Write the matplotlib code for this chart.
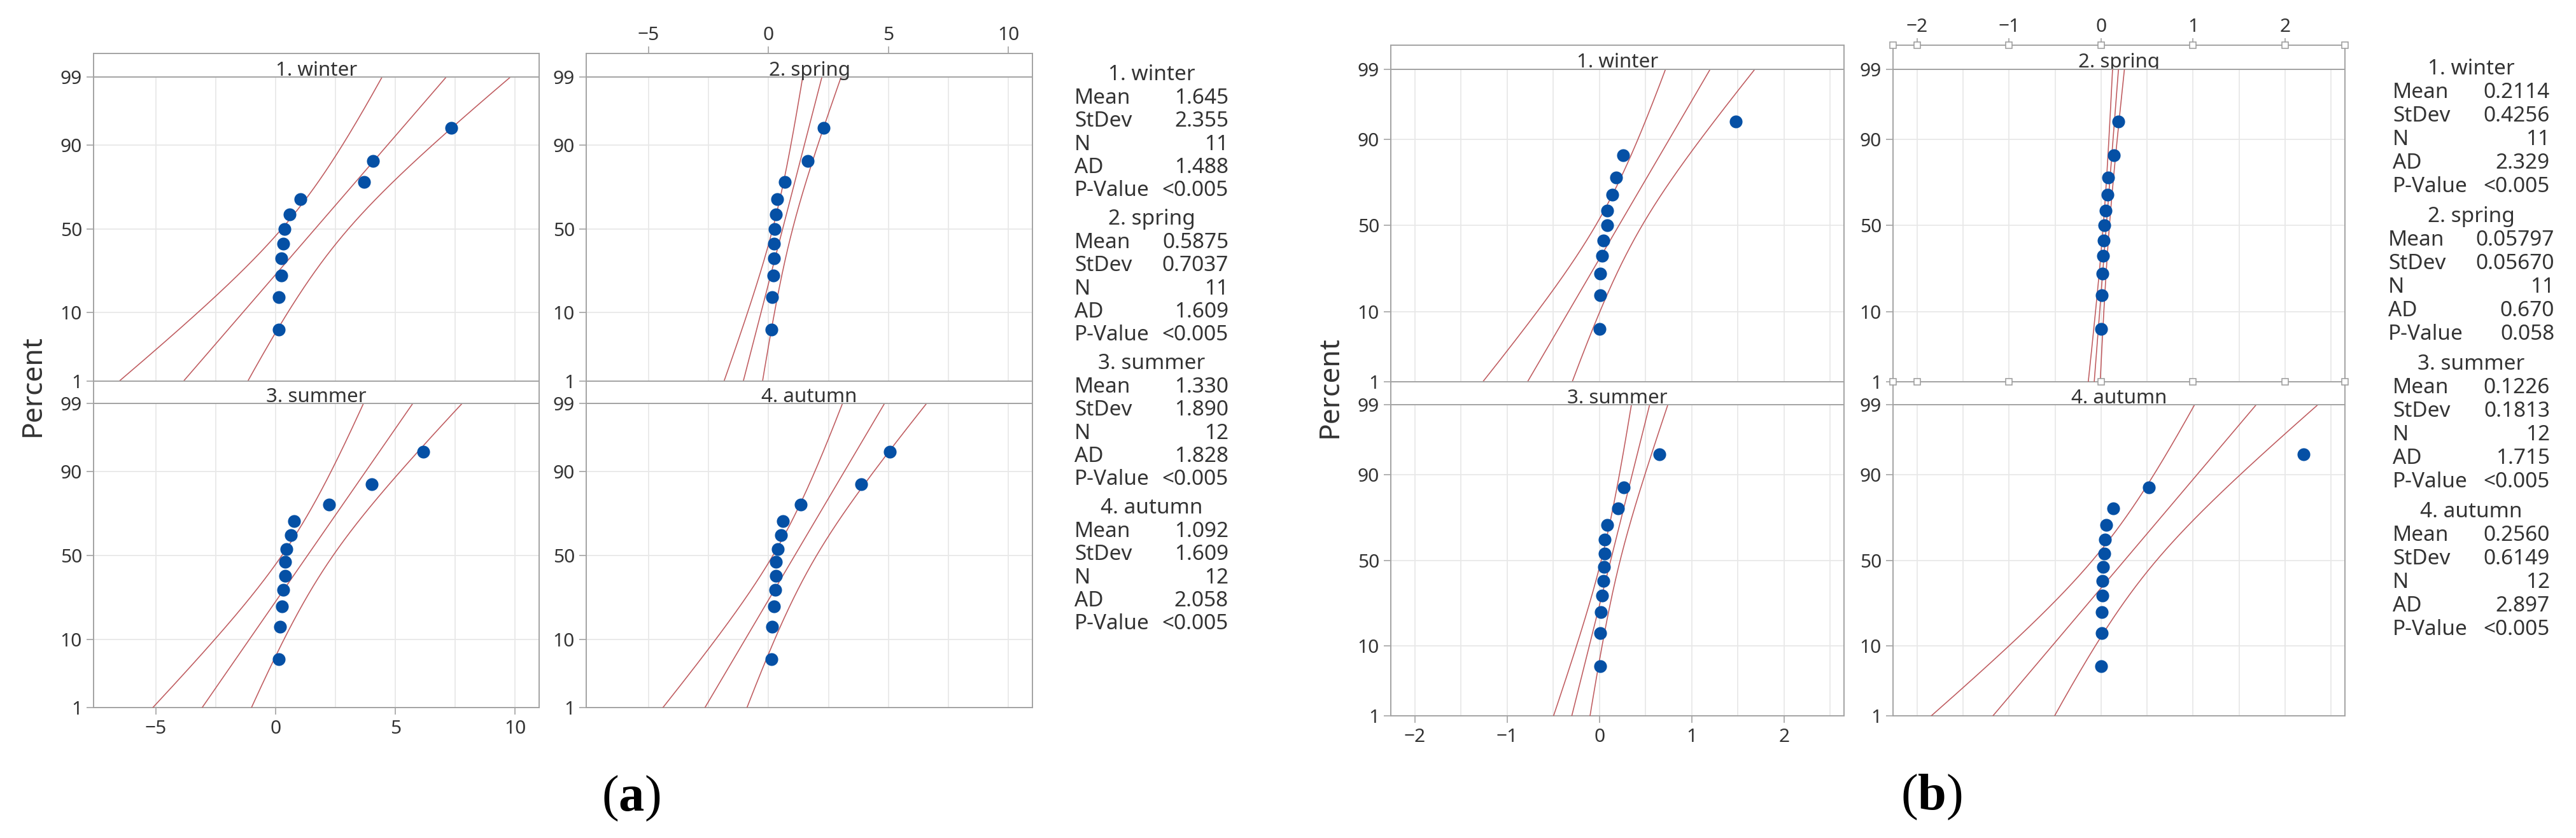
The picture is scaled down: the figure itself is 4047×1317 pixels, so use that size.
import matplotlib
matplotlib.use("Agg")
import matplotlib.pyplot as plt
from matplotlib.ticker import NullLocator
import numpy as np
from statistics import NormalDist

plt.rcParams['font.family'] = ['Noto Sans', 'DejaVu Sans']
plt.rcParams['mathtext.fontset'] = 'custom'
plt.rcParams['mathtext.rm'] = 'Liberation Serif'
plt.rcParams['mathtext.bf'] = 'Liberation Serif:bold'

# --- data ---
seasons = ["1. winter", "2. spring", "3. summer", "4. autumn"]
pct_ticks = [1, 10, 50, 90, 99]

# (a)
a_winter = [0.12, 0.12, 0.24, 0.24, 0.32, 0.36, 0.59, 1.03, 3.69, 4.06, 7.33]
a_spring = [0.13, 0.14, 0.21, 0.22, 0.24, 0.26, 0.30, 0.36, 0.68, 1.63, 2.30]
a_summer = [0.14, 0.19, 0.26, 0.31, 0.40, 0.40, 0.45, 0.64, 0.78, 2.23, 4.01, 6.17]
a_autumn = [0.12, 0.14, 0.22, 0.28, 0.30, 0.32, 0.38, 0.52, 0.60, 1.35, 3.85, 5.05]
a_mean = ["1.645", "0.5875", "1.330", "1.092"]
a_sd = ["2.355", "0.7037", "1.890", "1.609"]
a_ad = ["1.488", "1.609", "1.828", "2.058"]
a_pval = ["<0.005", "<0.005", "<0.005", "<0.005"]
a_xticks = [-5, 0, 5, 10]
a_xminor = [-2.5, 2.5, 7.5]

# (b)
b_winter = [0.0, 0.01, 0.01, 0.03, 0.04, 0.085, 0.085, 0.14, 0.18, 0.26, 1.48]
b_spring = [0.0, 0.01, 0.012, 0.022, 0.032, 0.034, 0.05, 0.072, 0.077, 0.14, 0.19]
b_summer = [0.01, 0.012, 0.013, 0.03, 0.042, 0.05, 0.054, 0.055, 0.088, 0.2, 0.267, 0.648]
b_autumn = [0.0, 0.005, 0.008, 0.015, 0.018, 0.025, 0.035, 0.045, 0.06, 0.13, 0.52, 2.2]
b_mean = ["0.2114", "0.05797", "0.1226", "0.2560"]
b_sd = ["0.4256", "0.05670", "0.1813", "0.6149"]
b_ad = ["2.329", "0.670", "1.715", "2.897"]
b_pval = ["<0.005", "0.058", "<0.005", "<0.005"]
b_xticks = [-2, -1, 0, 1, 2]
b_xminor = [-1.5, -0.5, 0.5, 1.5, 2.5]

W, H = 4047, 1317
BLUE = '#0550a5'
RED = '#bf5b5f'
FRAME = '#a3a3a3'
GRID = '#e8e8e8'
TXT = '#333333'
ND = NormalDist()


def to_z(p):
    p = np.asarray(p, dtype=float)
    flat = np.atleast_1d(p).ravel()
    out = [ND.inv_cdf(min(max(v / 100.0, 1e-9), 1 - 1e-9)) if np.isfinite(v) else np.nan
           for v in flat]
    return np.array(out).reshape(p.shape)


def to_p(z):
    z = np.asarray(z, dtype=float)
    flat = np.atleast_1d(z).ravel()
    out = [ND.cdf(v) * 100.0 if np.isfinite(v) else np.nan for v in flat]
    return np.array(out).reshape(z.shape)


fig = plt.figure(figsize=(W / 100, H / 100), dpi=100)


def px_axes(x0, x1, y0, y1, **kw):
    return fig.add_axes([x0 / W, 1 - y1 / H, (x1 - x0) / W, (y1 - y0) / H], **kw)


def draw_panel(box, xlim, major, minor, title, values, mean, sd, xlabels=None, handles=False):
    x0, x1, ys, y0, y1 = box
    ax = px_axes(x0, x1, y0, y1)
    st = px_axes(x0, x1, ys, y0, sharex=ax)

    ax.set_yscale('function', functions=(to_z, to_p))
    ax.set_ylim(1, 99)
    ax.set_yticks(pct_ticks)
    ax.set_yticklabels([str(t) for t in pct_ticks])
    ax.yaxis.set_minor_locator(NullLocator())
    ax.set_xlim(xlim)
    ax.set_xticks(major)
    ax.set_xticks(minor, minor=True)
    ax.set_axisbelow(True)
    ax.grid(True, which='both', axis='x', color=GRID, lw=1.3)
    ax.grid(True, which='major', axis='y', color=GRID, lw=1.3)

    ax.tick_params(axis='y', which='major', length=8, width=1.2, color=FRAME,
                   labelsize=21.5, labelcolor=TXT, pad=5)
    ax.tick_params(axis='x', which='minor', length=0)
    if xlabels == 'bottom':
        ax.tick_params(axis='x', which='major', bottom=True, labelbottom=True, length=8,
                       width=1.2, color=FRAME, labelsize=21.5, labelcolor=TXT, pad=6)
    else:
        ax.tick_params(axis='x', which='major', bottom=False, labelbottom=False)

    st.set_ylim(0, 1)
    st.set_yticks([])
    st.tick_params(axis='x', which='minor', length=0, bottom=False, top=False)
    st.tick_params(axis='x', which='major', bottom=False, labelbottom=False,
                   top=(xlabels == 'top'), labeltop=(xlabels == 'top'), length=8,
                   width=1.2, color=FRAME, labelsize=21.5, labelcolor=TXT, pad=2)
    st.text(0.5, 0.06, title, transform=st.transAxes, ha='center', va='baseline',
            size=22.5, color=TXT)

    for a in (ax, st):
        for s in a.spines.values():
            s.set_color(FRAME)
            s.set_linewidth(1.4)

    # fitted line and 95% CI
    n = len(values)
    m, s_ = float(mean), float(sd)
    pgrid = np.linspace(0.3, 99.7, 400)
    z = to_z(pgrid)
    fit = m + s_ * z
    hw = 1.96 * s_ * np.sqrt(1.0 / n + z ** 2 / (2.0 * n))
    for xs in (fit - hw, fit, fit + hw):
        ax.plot(xs, pgrid, color=RED, lw=1.15, zorder=3)

    vals = np.sort(values)
    pos = (np.arange(1, n + 1) - 0.3) / (n + 0.4) * 100
    ax.plot(vals, pos, 'o', ms=14.5, color=BLUE, mew=0, zorder=5)

    if handles:
        ax.set_zorder(3)
        hx = [xlim[0]] + [t for t in major if xlim[0] < t < xlim[1]] + [xlim[1]]
        kw = dict(ls='none', marker='s', ms=6.5, mfc='white', mec='#9a9a9a', mew=1.1,
                  clip_on=False, zorder=10)
        st.plot(hx, [1] * len(hx), transform=st.get_xaxis_transform(), **kw)
        ax.plot(hx, [0] * len(hx), transform=ax.get_xaxis_transform(), **kw)
    return ax


def stats_block(lx, rx, head0, stride, row0, step, groups, means, sds, ads, pvals):
    for k in range(4):
        hb = head0 + k * stride
        rows = [("Mean", means[k]), ("StDev", sds[k]), ("N", str(len(groups[k]))),
                ("AD", ads[k]), ("P-Value", pvals[k])]
        ex = max(max(len(v) for _, v in rows) - 6, 0) * 7
        fig.text(((lx + rx) / 2) / W, 1 - hb / H, seasons[k], ha='center', va='baseline',
                 size=24, color=TXT)
        for j, (lab, val) in enumerate(rows):
            y = hb + row0 + j * step
            fig.text((lx - ex) / W, 1 - y / H, lab, ha='left', va='baseline', size=24, color=TXT)
            fig.text((rx + ex) / W, 1 - y / H, val, ha='right', va='baseline', size=24, color=TXT)


# ---------- (a) ----------
a_groups = [a_winter, a_spring, a_summer, a_autumn]
a_xlim = (-7.6, 11.0)
a_boxes = [(147, 847, 84, 121, 598.5), (921, 1622, 84, 121, 598.5),
           (147, 847, 598.5, 634, 1112), (921, 1622, 598.5, 634, 1112)]
a_lab = [None, 'top', 'bottom', None]
for k in range(4):
    draw_panel(a_boxes[k], a_xlim, a_xticks, a_xminor, seasons[k], a_groups[k],
               a_mean[k], a_sd[k], a_lab[k])
fig.text(52 / W, 1 - 606 / H, 'Percent', rotation=90, ha='center', va='center',
         size=32, color=TXT)
stats_block(1688, 1930, 126, 227, 37, 36.3, a_groups, a_mean, a_sd, a_ad, a_pval)
fig.text(991 / W, 1 - 1253 / H, r'$(\mathbf{a})$', ha='center', va='center', size=58,
         color='black')

# ---------- (b) ----------
b_groups = [b_winter, b_spring, b_summer, b_autumn]
b_xlim = (-2.26, 2.65)
b_boxes = [(2185, 2897, 71, 108.5, 600), (2974, 3684, 71, 108.5, 600),
           (2185, 2897, 600, 636, 1125), (2974, 3684, 600, 636, 1125)]
b_lab = [None, 'top', 'bottom', None]
b_handles = [False, True, False, False]
for k in range(4):
    draw_panel(b_boxes[k], b_xlim, b_xticks, b_xminor, seasons[k], b_groups[k],
               b_mean[k], b_sd[k], b_lab[k], b_handles[k])
fig.text(2090 / W, 1 - 608 / H, 'Percent', rotation=90, ha='center', va='center',
         size=32, color=TXT)
stats_block(3759, 4006, 117, 232, 36.5, 37.2, b_groups, b_mean, b_sd, b_ad, b_pval)
fig.text(3034 / W, 1 - 1251 / H, r'$(\mathbf{b})$', ha='center', va='center', size=58,
         color='black')

fig.savefig('out.png', dpi=100, facecolor='white')
